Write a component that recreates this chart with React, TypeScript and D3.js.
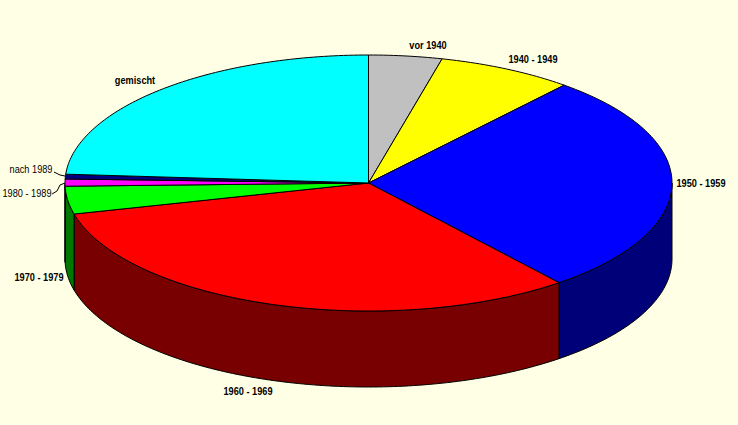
import React from "react";
import * as d3 from "d3";

const categories = ["vor 1940", "1940 - 1949", "1950 - 1959", "1960 - 1969", "1970 - 1979", "1980 - 1989", "nach 1989", "gemischt"];
const shares = [3.9, 7.25, 28.05, 31.9, 3.5, 0.9, 0.6, 23.9];
const topColors = ["#c0c0c0", "#ffff00", "#0000ff", "#ff0000", "#00ff00", "#ff00ff", "#000080", "#00ffff"];
const wallColors = ["#606060", "#787800", "#000078", "#780000", "#007800", "#780078", "#000040", "#007878"];

const W = 738, H = 425;
const cx = 368.5, cy = 183, rx = 303.5, ry = 128, depth = 76;
const BG = "#ffffe6";

const labelPlace: Record<string, { x: number; y: number; anchor: string; weight: number }> = {
  "vor 1940": { x: 428, y: 49, anchor: "middle", weight: 700 },
  "1940 - 1949": { x: 533, y: 63, anchor: "middle", weight: 700 },
  "1950 - 1959": { x: 701, y: 187, anchor: "middle", weight: 700 },
  "1960 - 1969": { x: 248, y: 395, anchor: "middle", weight: 700 },
  "1970 - 1979": { x: 39, y: 281, anchor: "middle", weight: 700 },
  "1980 - 1989": { x: 27, y: 197, anchor: "middle", weight: 400 },
  "nach 1989": { x: 31, y: 173, anchor: "middle", weight: 400 },
  gemischt: { x: 135, y: 84, anchor: "middle", weight: 700 },
};
const leaders = [
  [[54, 172], [60, 175], [65, 176]],
  [[52, 194], [57, 191], [60, 185], [65, 183]],
];

const xs = d3.scaleLinear().domain([-1, 1]).range([cx - rx, cx + rx]);
const ys = d3.scaleLinear().domain([-1, 1]).range([cy + ry, cy - ry]);
const pt = (a: number, dy = 0): [number, number] => [xs(Math.sin(a)), ys(Math.cos(a)) + dy];
const line = d3.line();
const arcs = d3.pie<number>().sort(null).value((d) => d)(shares);

function sample(a0: number, a1: number, dy = 0): [number, number][] {
  const n = Math.max(2, Math.ceil((a1 - a0) * 60));
  return d3.range(n + 1).map((i) => pt(a0 + ((a1 - a0) * i) / n, dy));
}

export default function App() {
  const wallEnd = (3 * Math.PI) / 2;
  return (
    <svg width={W} height={H} style={{ position: "absolute", left: 0, top: 0, background: BG }}>
      {arcs.map((s, i) => {
        const a0 = Math.max(s.startAngle, Math.PI / 2);
        const a1 = Math.min(s.endAngle, wallEnd);
        if (a1 <= a0) return null;
        const p = [...sample(a0, a1), ...sample(a0, a1, depth).reverse()];
        return <path key={i} d={line(p) + "Z"} fill={wallColors[i]} stroke="#000" strokeWidth={1} strokeLinejoin="round" />;
      })}
      {arcs.map((s, i) => {
        const p: [number, number][] = [[cx, cy], ...sample(s.startAngle, s.endAngle)];
        return <path key={i} d={line(p) + "Z"} fill={topColors[i]} stroke="#000" strokeWidth={1} strokeLinejoin="round" />;
      })}
      {leaders.map((l, i) => (
        <path key={i} d={line(l as [number, number][]) ?? ""} fill="none" stroke="#000" strokeWidth={1} />
      ))}
      {categories.map((c) => {
        const l = labelPlace[c];
        return (
          <text key={c} transform={`translate(${l.x},${l.y - 0.5}) scale(0.92,1)`} textAnchor={l.anchor} fontFamily="'Liberation Sans', Arial, sans-serif" fontSize={10} fontWeight={l.weight} fill="#000">
            {c}
          </text>
        );
      })}
    </svg>
  );
}
